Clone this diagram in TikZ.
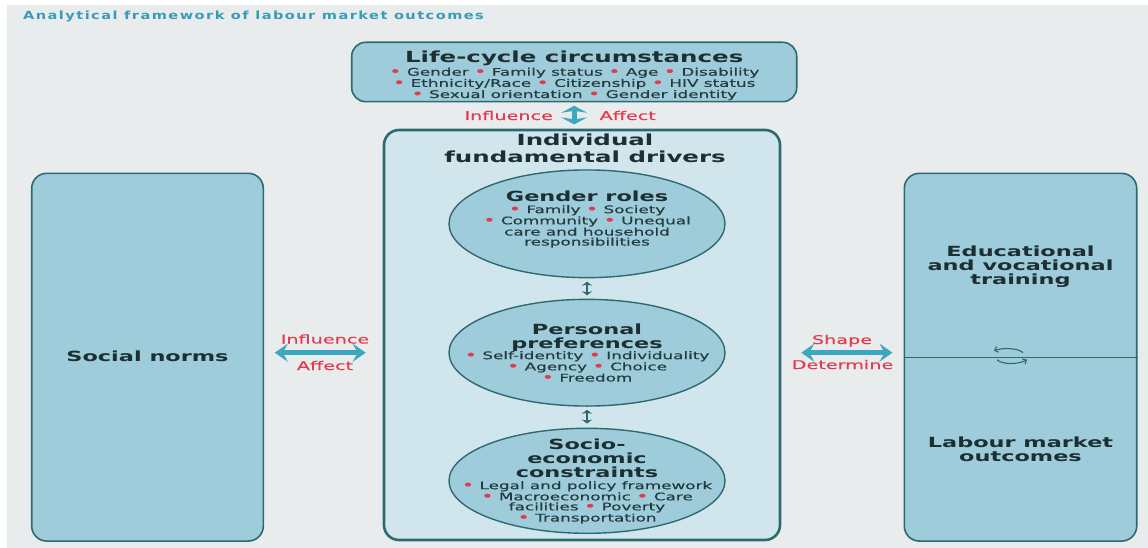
\documentclass[tikz,border=0pt]{standalone}
\usepackage{fontspec}
\setmainfont{DejaVu Sans}[FakeStretch=1.6]
\newfontfamily\bodyfont{DejaVu Sans}[FakeStretch=1.6,FakeBold=0.35]
\newfontfamily\titlefont{DejaVu Sans}[FakeStretch=1.3,LetterSpace=13]
\usetikzlibrary{shapes.geometric,arrows.meta}
\definecolor{bgc}{HTML}{E8ECED}
\definecolor{boxfill}{HTML}{9ECCDA}
\definecolor{innerfill}{HTML}{D0E6EC}
\definecolor{edge}{HTML}{2D6A70}
\definecolor{headc}{HTML}{1C2F32}
\definecolor{bodyc}{HTML}{223B3E}
\definecolor{bred}{HTML}{E23A4E}
\definecolor{arrowc}{HTML}{3FA7BD}
\definecolor{titlec}{HTML}{3A9BB8}
\newcommand\bu{\raisebox{-0.3pt}{\scalebox{1.25}{\color{bred}\textbullet}}}
\tikzset{
  box/.style={draw=edge, line width=1.6pt, fill=boxfill, rounded corners=14pt, inner sep=0pt},
  innerbox/.style={draw=edge, line width=2.6pt, fill=innerfill, rounded corners=15pt, inner sep=0pt},
  oval/.style={ellipse, draw=edge, line width=1.4pt, fill=boxfill, inner sep=0pt, minimum width=276pt},
  headA/.style={anchor=base, align=center, text=headc, font=\fontsize{15.3}{16.5}\selectfont\bfseries},
  headB/.style={anchor=base, align=center, text=headc, font=\fontsize{14}{14}\selectfont\bfseries},
  body/.style={anchor=base, align=center, text=bodyc, font=\fontsize{10.5}{10}\selectfont\bodyfont},
  lbl/.style={anchor=base, text=bred, font=\fontsize{12}{12}\selectfont\bodyfont},
  bigarrowh/.style={draw=arrowc, line width=4.5pt, {Stealth[length=13pt,width=18pt,inset=5pt]}-{Stealth[length=13pt,width=18pt,inset=5pt]}},
  bigarrowv/.style={draw=arrowc, line width=5pt, {Stealth[length=7pt,width=26pt,inset=2pt]}-{Stealth[length=7pt,width=26pt,inset=2pt]}},
  smallarrow/.style={draw=edge, line width=1.3pt, {Stealth[length=4pt,width=10pt,inset=1pt]}-{Stealth[length=4pt,width=10pt,inset=1pt]}},
  cyc/.style={draw=edge, line width=1.1pt, -{Straight Barb[length=3pt,width=6pt]}}
}
\begin{document}
\begin{tikzpicture}[x=1pt,y=-1pt]
\useasboundingbox (0,0) rectangle (1148,548);
\fill[white] (0,0) rectangle (1148,548);
\fill[bgc] (7,5) rectangle (1148,548);

% title
\node[anchor=base, text=titlec, font=\fontsize{11.2}{11.2}\selectfont\titlefont\bfseries] (title) at (253.5,20) {Analytical framework of labour market outcomes};

% life-cycle
\node[box, minimum width=445pt, minimum height=59.4pt] (life) at (574.2,72) {};
\node[headA] (lifeT) at (574.2,62.3) {Life-cycle circumstances};
\node[body] (lifeB) at (574.2,98) {\bu\ Gender \bu\ Family status \bu\ Age \bu\ Disability\\
\bu\ Ethnicity/Race \bu\ Citizenship \bu\ HIV status\\
\bu\ Sexual orientation \bu\ Gender identity};

% individual drivers
\node[innerbox, minimum width=396pt, minimum height=410pt] (ind) at (582,335) {};
\node[headA] (indT) at (585,162.5) {Individual\\fundamental drivers};

\node[oval, minimum height=107.7pt] (gender) at (587,223.8) {};
\node[headB] (genT) at (587,201.8) {Gender roles};
\node[body] (genB) at (587,245.5) {\bu\ Family \bu\ Society\\\bu\ Community \bu\ Unequal\\care and household\\responsibilities};

\node[oval, minimum height=106.7pt] (pers) at (587,352.7) {};
\node[headB] (persT) at (587,348) {Personal\\preferences};
\node[body] (persB) at (587,381.5) {\bu\ Self-identity \bu\ Individuality\\\bu\ Agency \bu\ Choice\\\bu\ Freedom};

\node[oval, minimum height=105pt] (socio) at (587,480.8) {};
\node[headB] (socT) at (587,477.3) {Socio-\\economic\\constraints};
\node[body] (socB) at (587,521.5) {\bu\ Legal and policy framework\\\bu\ Macroeconomic \bu\ Care\\facilities \bu\ Poverty\\\bu\ Transportation};

% side boxes
\node[box, minimum width=231.6pt, minimum height=367.7pt, rounded corners=15pt] (social) at (147.5,357.2) {};
\node[headB] (socialT) at (147.5,361.5) {Social norms};

\node[box, minimum width=232.4pt, minimum height=367.7pt, rounded corners=15pt] (rbox) at (1020.5,357.2) {};
\draw[edge, line width=1.2pt] (rbox.west) -- (rbox.east);
\node[headB] (eduT) at (1020.5,284.3) {Educational\\and vocational\\training};
\node[headB] (labT) at (1020.5,461.3) {Labour market\\outcomes};

% cycle icon
\coordinate (cy) at (1010,356.7);
\draw[cyc] ([shift={(13,-4)}]cy) .. controls ([shift={(8,-9)}]cy) and ([shift={(-8,-9)}]cy) .. ([shift={(-16,-6)}]cy);
\draw[cyc] ([shift={(-13,3)}]cy) .. controls ([shift={(-8,8)}]cy) and ([shift={(8,8)}]cy) .. ([shift={(17,3)}]cy);

% connectors
\draw[bigarrowv, shorten <=3.3pt, shorten >=4.3pt] (life.south) -- (life.south |- ind.north);
\node[lbl] (infl1) at (508.7,120) {Influence};
\node[lbl] (aff1) at (627.7,120) {Affect};

\path ([yshift=4.5pt]social.east) coordinate (la);
\draw[bigarrowh, shorten <=10.7pt, shorten >=17pt] (la) -- (la -| ind.west);
\node[lbl] (infl2) at (325,343.5) {Influence};
\node[lbl] (aff2) at (325,370) {Affect};

\path ([yshift=4.5pt]rbox.west) coordinate (ra);
\draw[bigarrowh, shorten <=20pt, shorten >=11pt] (ra -| ind.east) -- (ra);
\node[lbl] (shp) at (842,344) {Shape};
\node[lbl] (det) at (842.5,369) {Determine};

\draw[smallarrow, shorten <=3.3pt, shorten >=3.3pt] (gender.south) -- (pers.north);
\draw[smallarrow, shorten <=3pt, shorten >=4pt] (pers.south) -- (socio.north);
\end{tikzpicture}
\end{document}
